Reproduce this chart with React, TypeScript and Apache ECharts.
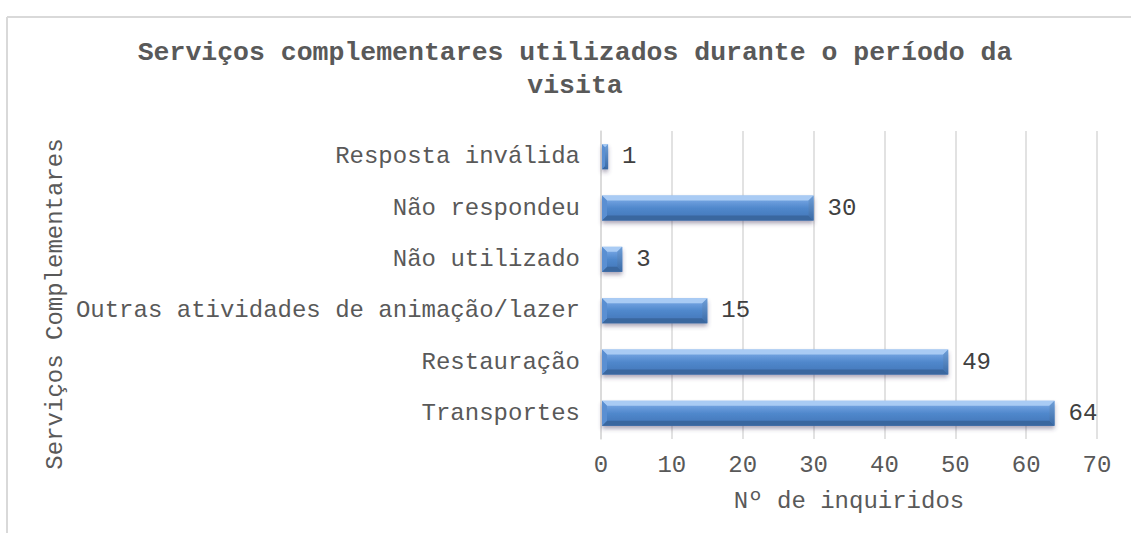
import React, { useEffect, useRef } from "react";
import * as echarts from "echarts";

const categories = [
  "Transportes",
  "Restauração",
  "Outras atividades de animação/lazer",
  "Não utilizado",
  "Não respondeu",
  "Resposta inválida",
];
const values = [64, 49, 15, 3, 30, 1];
const xTicks = { min: 0, max: 70, interval: 10 };
const titleText = "Serviços complementares utilizados durante o período da\nvisita";
const xName = "Nº de inquiridos";
const yName = "Serviços Complementares";

const FONT = "'Liberation Mono', 'Courier New', monospace";
const FS = 24;

export default function App() {
  const ref = useRef<HTMLDivElement>(null);
  useEffect(() => {
    if (!ref.current) return;
    const chart = echarts.init(ref.current, null, { renderer: "svg" });
    const option: any = {
      animation: false,
      backgroundColor: "#ffffff",
      grid: { left: 601, right: 34, top: 131, bottom: 102, containLabel: false },
      xAxis: {
        type: "value",
        min: xTicks.min,
        max: xTicks.max,
        interval: xTicks.interval,
        axisLine: { show: false },
        axisTick: { show: false },
        splitLine: { show: true, lineStyle: { color: "#d9d9d9", width: 1.5 } },
        axisLabel: { margin: 14, fontSize: FS, fontFamily: FONT, color: "#595959" },
        name: xName,
        nameLocation: "middle",
        nameGap: 50,
        nameTextStyle: { fontSize: FS, fontFamily: FONT, color: "#595959" },
      },
      yAxis: {
        type: "category",
        data: categories,
        axisLine: { show: true, lineStyle: { color: "#d9d9d9", width: 1.5 } },
        axisTick: { show: false },
        axisLabel: { margin: 21, fontSize: FS, fontFamily: FONT, color: "#595959" },
      },
      graphic: [
        { type: "line", shape: { x1: 7, y1: 17, x2: 1131, y2: 17 }, style: { stroke: "#d9d9d9", lineWidth: 2 } },
        { type: "line", shape: { x1: 7, y1: 17, x2: 7, y2: 533 }, style: { stroke: "#d9d9d9", lineWidth: 2 } },
        {
          type: "text",
          x: 575,
          y: 36,
          style: {
            text: titleText,
            fill: "#595959",
            font: `bold 26.5px ${FONT}`,
            textAlign: "center",
            textVerticalAlign: "top",
            lineHeight: 33,
          },
        },
        {
          type: "text",
          x: 55,
          y: 304,
          rotation: Math.PI / 2,
          style: {
            text: yName,
            fill: "#595959",
            font: `${FS}px ${FONT}`,
            textAlign: "center",
            textVerticalAlign: "middle",
          },
        },
      ],
      series: [
        {
          type: "custom",
          encode: { x: 0, y: 1 },
          data: values.map((v, i) => [v, i]),
          renderItem: (params: any, api: any) => {
            const v = api.value(0);
            const ci = api.value(1);
            const s = api.coord([0, ci]);
            const e = api.coord([v, ci]);
            const h = 25;
            const x0 = s[0] + 1;
            const x1 = e[0];
            const y0 = s[1] - h / 2;
            const y1 = s[1] + h / 2;
            const w = x1 - x0;
            const b = Math.min(5, w / 2);
            return {
              type: "group",
              children: [
                {
                  type: "rect",
                  shape: { x: x0, y: y0, width: w, height: h },
                  style: {
                    fill: new echarts.graphic.LinearGradient(0, 0, 0, 1, [
                      { offset: 0, color: "#8fb8ea" },
                      { offset: 0.25, color: "#6a9cdc" },
                      { offset: 0.5, color: "#5088cc" },
                      { offset: 1, color: "#4174b6" },
                    ]),
                    shadowColor: "rgba(70,60,100,0.45)",
                    shadowBlur: 4,
                    shadowOffsetY: 3,
                  },
                },
                {
                  type: "polygon",
                  shape: { points: [[x0, y0], [x1, y0], [x1 - b, y0 + b], [x0 + b, y0 + b]] },
                  style: { fill: "#a9cbf4" },
                },
                {
                  type: "polygon",
                  shape: { points: [[x0 + b, y1 - b], [x1 - b, y1 - b], [x1, y1], [x0, y1]] },
                  style: { fill: "#3a679f" },
                },
                {
                  type: "polygon",
                  shape: { points: [[x0, y0], [x0 + b, y0 + b], [x0 + b, y1 - b], [x0, y1]] },
                  style: { fill: "#5a8fd2" },
                },
                {
                  type: "polygon",
                  shape: { points: [[x1, y0], [x1, y1], [x1 - b, y1 - b], [x1 - b, y0 + b]] },
                  style: {
                    fill: new echarts.graphic.LinearGradient(0, 0, 0, 1, [
                      { offset: 0, color: "#6f9fd8" },
                      { offset: 1, color: "#3a6aa6" },
                    ]),
                  },
                },
                {
                  type: "text",
                  style: {
                    text: String(v),
                    x: x1 + 14,
                    y: s[1],
                    fill: "#404040",
                    font: `${FS}px ${FONT}`,
                    textAlign: "left",
                    textVerticalAlign: "middle",
                  },
                },
              ],
            };
          },
        },
      ],
    };
    chart.setOption(option);
    return () => chart.dispose();
  }, []);
  return (
    <div
      ref={ref}
      style={{ position: "fixed", left: 0, top: 0, width: 1131, height: 541, background: "#fff" }}
    />
  );
}
